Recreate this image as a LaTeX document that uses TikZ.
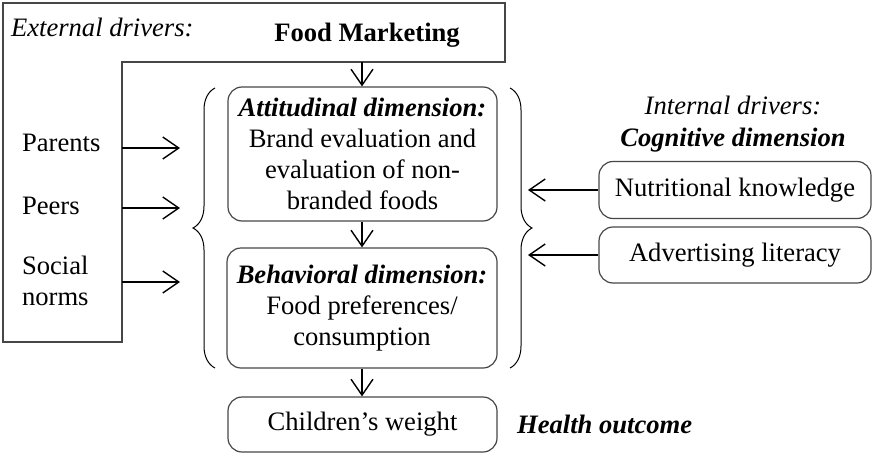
\documentclass[tikz,border=0pt]{standalone}
\usepackage{fontspec}
\setmainfont{Liberation Serif}
\usetikzlibrary{arrows.meta,positioning,decorations.pathreplacing}
\definecolor{frameline}{RGB}{70,70,70}

\begin{document}
\begin{tikzpicture}[x=0.5pt,y=-0.5pt,
    font=\fontsize{13.3}{15.5}\selectfont,
    >={Straight Barb[length=8pt,width=11pt]},
    dimbox/.style={draw=frameline,line width=0.6pt,rounded corners=7pt,align=center,inner sep=0pt},
    conn/.style={->,line width=0.7pt},
    bracket/.style={decorate,decoration={brace,amplitude=11pt},line width=0.5pt}]
    \useasboundingbox (0,0) rectangle (872,455);

    % External drivers frame
    \draw[frameline,line width=0.6pt] (3,3) -- (505,3) -- (505,62) -- (122,62) -- (122,342) -- (3,342) -- cycle;
    \node[anchor=west,font=\fontsize{13.3}{15.5}\selectfont\itshape] (ext) at (4,27) {External drivers:};
    \node[font=\fontsize{13.3}{15.5}\selectfont\bfseries] (mkt) at (367,35) {Food Marketing};
    \coordinate (mktout) at (362,62);

    % Left drivers
    \node[anchor=west] (par) at (15,143) {Parents};
    \node[anchor=west] (peer) at (15,206) {Peers};
    \node[anchor=west,align=left] (soc) at (15,281) {Social\\norms};
    \foreach \n/\y in {par/148,peer/208,soc/282} {
        \coordinate (\n-a) at (122,\y);
        \coordinate (\n-b) at (180,\y);
        \draw[conn] (\n-a) -- (\n-b);
    }

    % Dimensions
    \node[dimbox,minimum width=134.5pt,minimum height=67pt] (att) at (362.5,154)
        {\textbf{\textit{Attitudinal dimension:}}\\Brand evaluation and\\evaluation of non-\\branded foods};
    \node[dimbox,minimum width=135pt,minimum height=60pt] (beh) at (362,308)
        {\textbf{\textit{Behavioral dimension:}}\\Food preferences/\\consumption};
    \node[dimbox,minimum width=134.5pt,minimum height=27.5pt] (child) at (362.5,424.5) {Children’s weight};
    \node[anchor=west,font=\fontsize{13.3}{15.5}\selectfont\bfseries\itshape] (health) at (510,424) {Health outcome};

    \draw[conn] (mktout) -- (att.north -| mktout);
    \draw[conn] (att.south -| mktout) -- (beh.north -| mktout);
    \draw[conn] (beh.south -| mktout) -- (child.north -| mktout);

    % Braces
    \draw[bracket] (215,368) -- (215,88);
    \draw[bracket] (510,88) -- (510,368);

    % Internal drivers
    \node[font=\fontsize{13.3}{15.5}\selectfont\itshape] (intl) at (733,105) {Internal drivers:};
    \node[font=\fontsize{13.3}{15.5}\selectfont\bfseries\itshape] (cog) at (733,140) {Cognitive dimension};
    \node[dimbox,minimum width=136pt,minimum height=28.5pt] (nk) at (735,190) {Nutritional knowledge};
    \node[dimbox,minimum width=136pt,minimum height=28pt] (al) at (735,255) {Advertising literacy};
    \coordinate (rtip) at (528,0);
    \draw[conn] (nk.west) -- (nk.west -| rtip);
    \draw[conn] (al.west) -- (al.west -| rtip);
\end{tikzpicture}
\end{document}
